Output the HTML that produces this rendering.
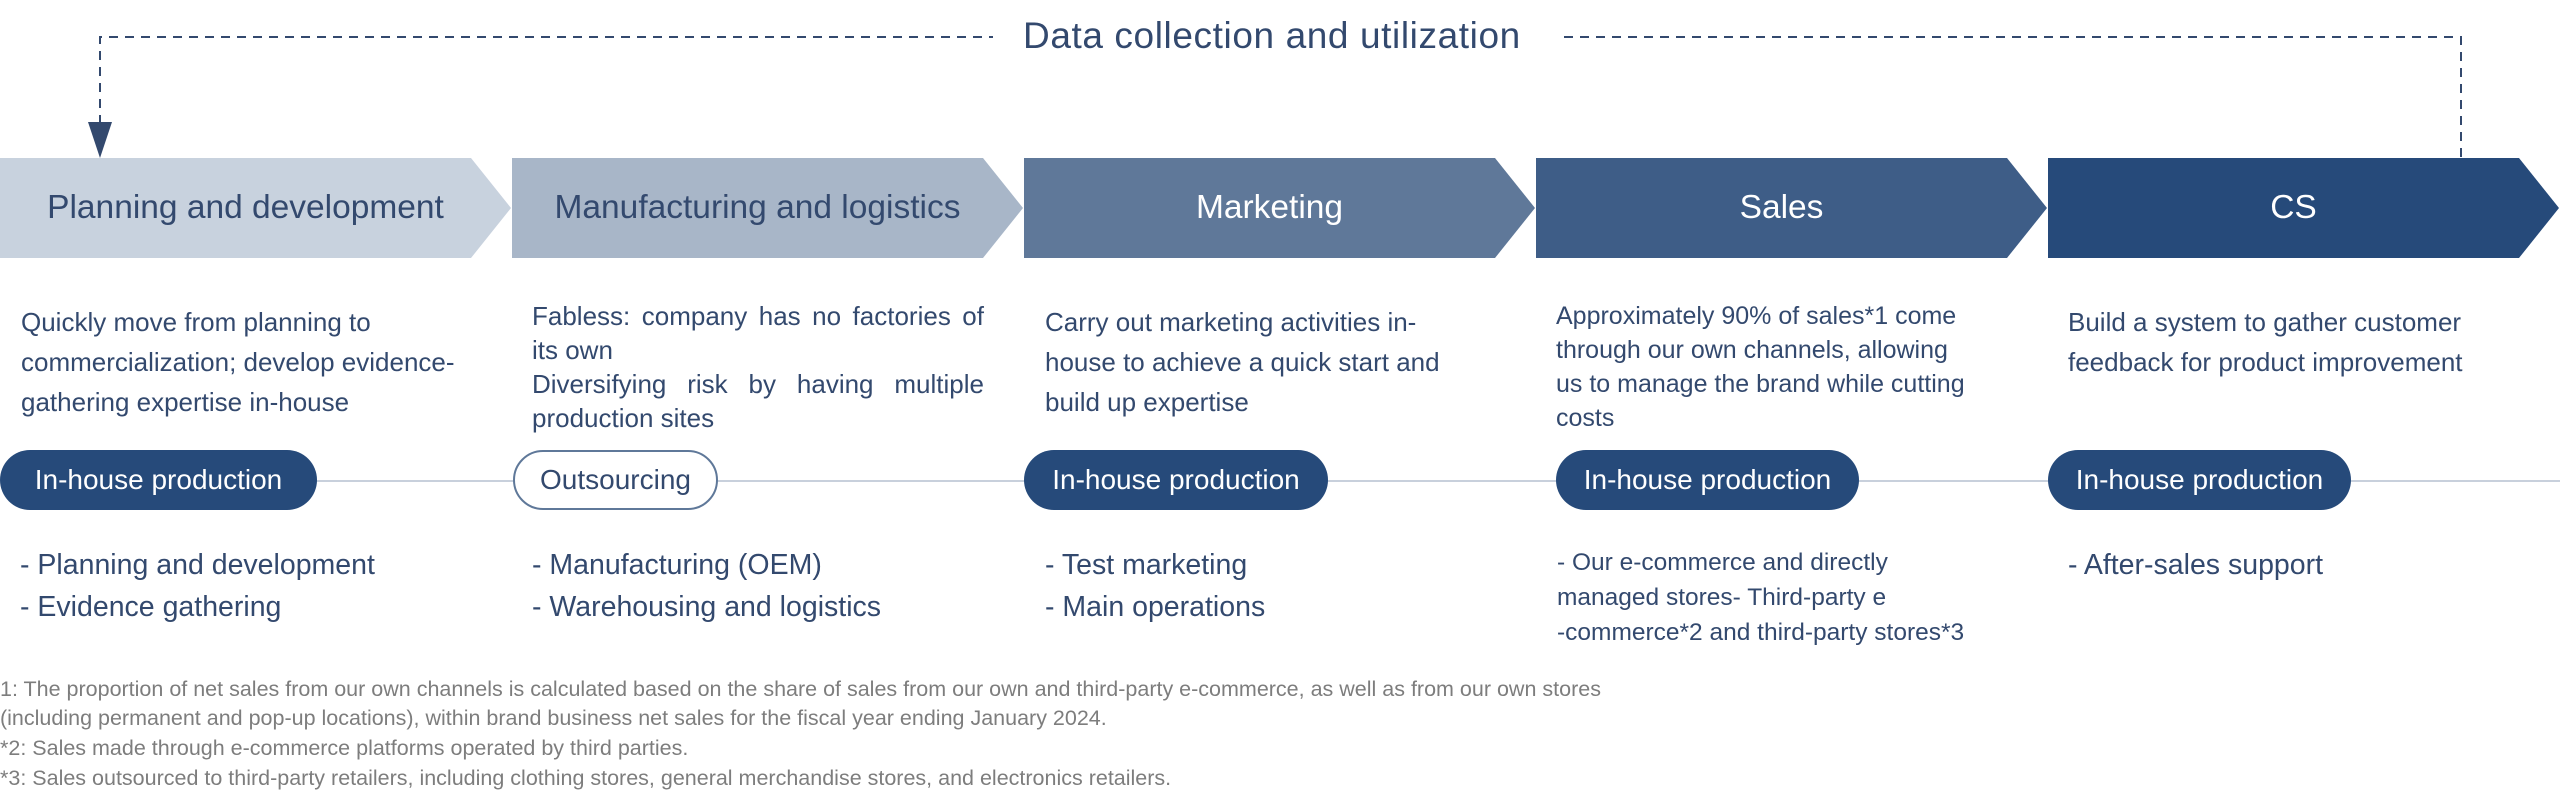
<!DOCTYPE html>
<html><head><meta charset="utf-8"><style>
html,body{margin:0;padding:0;background:#fff;}
body{width:2560px;height:794px;position:relative;overflow:hidden;font-family:"Liberation Sans",sans-serif;color:#33496e;}
.a{position:absolute;white-space:nowrap;}
.ct{position:absolute;top:158px;height:100px;line-height:100px;text-align:center;font-size:33.5px;width:491px;}
.d{position:absolute;top:302px;font-size:26px;line-height:40px;white-space:nowrap;}
.pill{position:absolute;top:450px;height:60px;line-height:60px;border-radius:30px;background:#264a7a;color:#fff;font-size:28px;text-align:center;box-sizing:border-box;white-space:nowrap;}
.b{position:absolute;top:544px;font-size:28.5px;line-height:42px;white-space:nowrap;}
.fn{position:absolute;left:0;font-size:21.5px;color:#7d7d7d;white-space:nowrap;}
.j{text-align:justify;text-align-last:justify;white-space:normal;}
</style></head><body>
<svg width="2560" height="794" style="position:absolute;left:0;top:0">
<g stroke="#33496e" stroke-width="2" stroke-dasharray="9,7" fill="none">
<path d="M100 124 V37 H993"/>
<path d="M1564 37 H2461 V158"/>
</g>
<polygon points="88,122 112,122 100,158" fill="#33496e"/>
<line x1="300" y1="481" x2="2560" y2="481" stroke="#c8d0dc" stroke-width="2"/>
<polygon points="0,158 471,158 511,208 471,258 0,258" fill="#c8d2de"/>
<polygon points="512,158 983,158 1023,208 983,258 512,258" fill="#a8b6c8"/>
<polygon points="1024,158 1495,158 1535,208 1495,258 1024,258" fill="#5f7899"/>
<polygon points="1536,158 2007,158 2047,208 2007,258 1536,258" fill="#3e5d87"/>
<polygon points="2048,158 2519,158 2559,208 2519,258 2048,258" fill="#264a7a"/>
</svg>
<div class="a" style="left:1023px;top:13px;font-size:37px;line-height:46px;letter-spacing:0.6px;">Data collection and utilization</div>
<div class="ct" style="left:0;color:#33496e;">Planning and development</div>
<div class="ct" style="left:512px;color:#33496e;">Manufacturing and logistics</div>
<div class="ct" style="left:1024px;color:#fff;">Marketing</div>
<div class="ct" style="left:1536px;color:#fff;">Sales</div>
<div class="ct" style="left:2048px;color:#fff;">CS</div>

<div class="d" style="left:21px;">Quickly move from planning to<br>commercialization; develop evidence-<br>gathering expertise in-house</div>
<div class="d" style="left:532px;top:299px;line-height:34px;width:452px;white-space:normal;">
<div class="j">Fabless: company has no factories of</div>
<div>its own</div>
<div class="j">Diversifying risk by having multiple</div>
<div>production sites</div></div>
<div class="d" style="left:1045px;">Carry out marketing activities in-<br>house to achieve a quick start and<br>build up expertise</div>
<div class="d" style="left:1556px;top:299px;line-height:34px;font-size:25px;">Approximately 90% of sales*1 come<br>through our own channels, allowing<br>us to manage the brand while cutting<br>costs</div>
<div class="d" style="left:2068px;">Build a system to gather customer<br>feedback for product improvement</div>

<div class="pill" style="left:0;width:317px;">In-house production</div>
<div class="pill" style="left:513px;width:205px;background:#fff;color:#33496e;border:2px solid #5f7899;line-height:56px;">Outsourcing</div>
<div class="pill" style="left:1024px;width:304px;">In-house production</div>
<div class="pill" style="left:1556px;width:303px;">In-house production</div>
<div class="pill" style="left:2048px;width:303px;">In-house production</div>

<div class="b" style="left:20px;">- Planning and development<br>- Evidence gathering</div>
<div class="b" style="left:532px;">- Manufacturing (OEM)<br>- Warehousing and logistics</div>
<div class="b" style="left:1045px;">- Test marketing<br>- Main operations</div>
<div class="b" style="left:1557px;top:545px;font-size:24.5px;line-height:35px;">- Our e-commerce and directly<br>managed stores- Third-party e<br>-commerce*2 and third-party stores*3</div>
<div class="b" style="left:2068px;">- After-sales support</div>

<div class="fn" style="top:677px;">1: The proportion of net sales from our own channels is calculated based on the share of sales from our own and third-party e-commerce, as well as from our own stores</div>
<div class="fn" style="top:706px;">(including permanent and pop-up locations), within brand business net sales for the fiscal year ending January 2024.</div>
<div class="fn" style="top:736px;">*2: Sales made through e-commerce platforms operated by third parties.</div>
<div class="fn" style="top:766px;">*3: Sales outsourced to third-party retailers, including clothing stores, general merchandise stores, and electronics retailers.</div>
</body></html>
